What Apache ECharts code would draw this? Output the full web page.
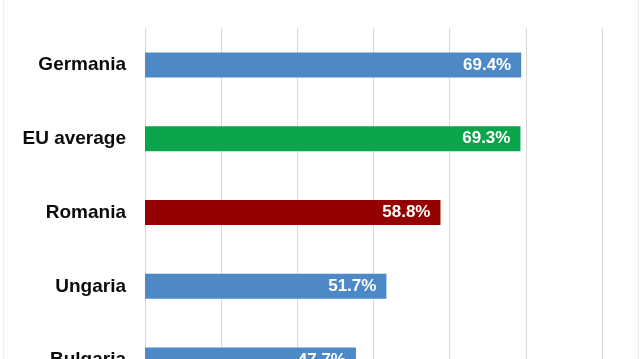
<!DOCTYPE html>
<html>
<head>
<meta charset="utf-8">
<script src="https://cdn.jsdelivr.net/npm/echarts@6/dist/echarts.min.js"></script>
<style>
html,body{margin:0;padding:0;background:#fff;overflow:hidden;}
#c{width:640px;height:400px;}
</style>
</head>
<body>
<div id="c"></div>
<script>
const categories = ['Germania', 'EU average', 'Romania', 'Ungaria', 'Bulgaria'];
const values = [69.4, 69.3, 58.8, 51.7, 47.7];
const barColors = ['#4e89c7', '#0aa54b', '#950000', '#4e89c7', '#4e89c7'];
const axisMin = 20;
const axisMax = 85;
const axisInterval = 10;

const chart = echarts.init(document.getElementById('c'), null, {renderer: 'canvas'});
chart.setOption({
  animation: false,
  backgroundColor: '#ffffff',
  grid: {left: 145, top: 28, width: 497, height: 369, containLabel: false},
  xAxis: {
    type: 'value',
    min: axisMin,
    max: axisMax,
    interval: axisInterval,
    axisLine: {show: false},
    axisTick: {show: false},
    axisLabel: {show: false},
    splitLine: {show: true, lineStyle: {color: '#d9d9d9', width: 1}}
  },
  yAxis: {
    type: 'category',
    inverse: true,
    data: categories,
    axisLine: {show: false},
    axisTick: {show: false},
    axisLabel: {
      margin: 19,
      color: '#0a0a0a',
      fontFamily: 'Liberation Sans, Arial, sans-serif',
      fontWeight: 'bold',
      fontSize: 19
    }
  },
  series: [{
    type: 'bar',
    barWidth: 25,
    data: values.map((v, i) => ({value: v, itemStyle: {color: barColors[i]}})),
    label: {
      show: true,
      position: 'insideRight',
      distance: 10,
      formatter: p => p.value.toFixed(1) + '%',
      color: '#ffffff',
      fontFamily: 'Liberation Sans, Arial, sans-serif',
      fontWeight: 'bold',
      fontSize: 17
    }
  }],
  graphic: [
    {type: 'line', shape: {x1: 3.5, y1: 0, x2: 3.5, y2: 400}, style: {stroke: '#eeeeee', lineWidth: 1}, silent: true},
    {type: 'line', shape: {x1: 638.5, y1: 0, x2: 638.5, y2: 400}, style: {stroke: '#eeeeee', lineWidth: 1}, silent: true}
  ]
});
</script>
</body>
</html>
